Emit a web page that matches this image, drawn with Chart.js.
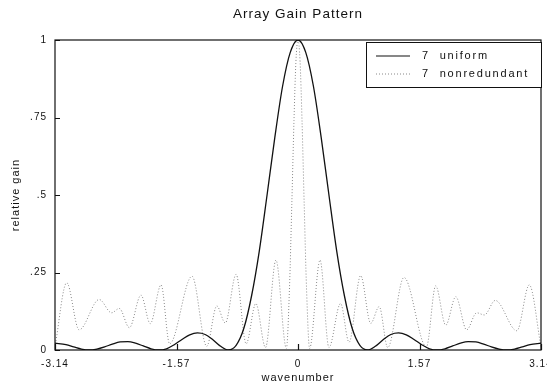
<html>
  <head>
    <script src="https://cdn.jsdelivr.net/npm/chart.js"></script>
    <style>
      body { margin: 0; background: #fff; }
    </style>
  </head>
  <body>
    <canvas id="myChart" width="547" height="385"></canvas>
    <script>
      // axis limits and ticks
      const xMin = -3.1416;
      const xMax = 3.1416;
      const xTicks = [-3.1416, -1.5708, 0, 1.5708, 3.1416];
      const xTickLabels = ['-3.14', '-1.57', '0', '1.57', '3.14'];
      const yTicks = [0, 0.25, 0.5, 0.75, 1];
      const yTickLabels = ['0', '.25', '.5', '.75', '1'];

      // 7 uniform
      const uniformX = [-3.1416, -3.0, -2.9, -2.8, -2.7, -2.6, -2.5, -2.4, -2.3, -2.2, -2.1, -2.0, -1.9, -1.8, -1.7, -1.6,
        -1.5, -1.4, -1.3, -1.2, -1.1, -1.0, -0.9, -0.8, -0.7, -0.6, -0.5, -0.4, -0.3, -0.2, -0.1, 0,
        0.1, 0.2, 0.3, 0.4, 0.5, 0.6, 0.7, 0.8, 0.9, 1.0, 1.1, 1.2, 1.3, 1.4, 1.5,
        1.6, 1.7, 1.8, 1.9, 2.0, 2.1, 2.2, 2.3, 2.4, 2.5, 2.6, 2.7, 2.8, 2.9, 3.0, 3.1416];
      const uniformY = [0.022, 0.017, 0.010, 0.003, 0.0, 0.003, 0.010, 0.019, 0.026, 0.027, 0.022, 0.013, 0.004, 0.0, 0.004, 0.017,
        0.034, 0.049, 0.055, 0.050, 0.033, 0.012, 0.0, 0.015, 0.070, 0.175, 0.32, 0.50, 0.685, 0.85, 0.96, 1.0,
        0.96, 0.85, 0.685, 0.50, 0.32, 0.175, 0.070, 0.015, 0.0, 0.012, 0.033, 0.050, 0.055, 0.049, 0.034,
        0.017, 0.004, 0.0, 0.004, 0.013, 0.022, 0.027, 0.026, 0.019, 0.010, 0.003, 0.0, 0.003, 0.010, 0.017, 0.022];

      // 7 nonredundant (peaks and troughs)
      const nonredX = [-3.1416, -2.99, -2.83, -2.57, -2.41, -2.31, -2.18, -2.03, -1.91, -1.77, -1.66, -1.37, -1.18,
        -1.05, -0.94, -0.80, -0.67, -0.545, -0.42, -0.285, -0.15, -0.11, -0.08, -0.052, -0.027, 0,
        0.027, 0.052, 0.08, 0.11, 0.15, 0.285, 0.40, 0.55, 0.66, 0.81, 0.94, 1.05, 1.16, 1.37,
        1.66, 1.78, 1.91, 2.04, 2.18, 2.31, 2.41, 2.55, 2.83, 2.99, 3.1416];
      const nonredY = [0.01, 0.217, 0.065, 0.163, 0.12, 0.134, 0.072, 0.177, 0.085, 0.21, 0.02, 0.238, 0.012,
        0.142, 0.087, 0.244, 0.02, 0.15, 0.008, 0.29, 0.005, 0.2, 0.47, 0.74, 0.93, 1.0,
        0.93, 0.74, 0.47, 0.2, 0.005, 0.29, 0.008, 0.15, 0.025, 0.24, 0.086, 0.14, 0.008, 0.234,
        0.01, 0.207, 0.08, 0.172, 0.065, 0.12, 0.113, 0.16, 0.062, 0.21, 0.01];

      const seriesNames = ['7  uniform', '7  nonredundant'];

      const fontFamily = '"Liberation Sans", Arial, sans-serif';
      Chart.defaults.font.family = fontFamily;
      Chart.defaults.color = '#111';

      const toPoints = (xs, ys) => xs.map((x, i) => ({ x: x, y: ys[i] }));

      // plotter look: letter spaced text
      const spacingPlugin = {
        id: 'spacing',
        beforeLayout(chart) { chart.ctx.letterSpacing = '1px'; },
        beforeDraw(chart) { chart.ctx.letterSpacing = '1px'; }
      };

      // box round the plot, inside ticks, legend box
      const framePlugin = {
        id: 'frame',
        afterDatasetsDraw(chart) {
          const { ctx, chartArea: a, scales } = chart;
          ctx.save();
          ctx.strokeStyle = '#111';
          ctx.lineWidth = 1.2;
          ctx.strokeRect(a.left, a.top, a.right - a.left, a.bottom - a.top);

          ctx.beginPath();
          yTicks.forEach(v => {
            const y = Math.round(scales.y.getPixelForValue(v)) + 0.5;
            ctx.moveTo(a.left, y);
            ctx.lineTo(a.left + 5, y);
          });
          xTicks.forEach(v => {
            const x = Math.round(scales.x.getPixelForValue(v)) + 0.5;
            ctx.moveTo(x, a.bottom);
            ctx.lineTo(x, a.bottom - 6);
          });
          ctx.stroke();

          // legend
          const lx = 366, ly = a.top + 2, lw = a.right - lx, lh = 45;
          ctx.fillStyle = '#fff';
          ctx.fillRect(lx, ly, lw, lh);
          ctx.lineWidth = 1;
          ctx.strokeRect(lx + 0.5, ly + 0.5, lw, lh);

          const rows = [ly + 14, ly + 32];
          ctx.beginPath();
          ctx.strokeStyle = '#111';
          ctx.lineWidth = 1.2;
          ctx.moveTo(376, rows[0]);
          ctx.lineTo(410, rows[0]);
          ctx.stroke();
          ctx.beginPath();
          ctx.strokeStyle = '#888';
          ctx.lineWidth = 1;
          ctx.setLineDash([1, 2]);
          ctx.moveTo(376, rows[1]);
          ctx.lineTo(410, rows[1]);
          ctx.stroke();
          ctx.setLineDash([]);

          ctx.fillStyle = '#111';
          ctx.font = '11px ' + fontFamily;
          ctx.letterSpacing = '1.8px';
          ctx.textAlign = 'left';
          ctx.textBaseline = 'middle';
          ctx.fillText(seriesNames[0], 422, rows[0]);
          ctx.fillText(seriesNames[1], 422, rows[1]);
          ctx.restore();
        }
      };

      const data = {
        datasets: [{
          label: seriesNames[0],
          data: toPoints(uniformX, uniformY),
          borderColor: '#111',
          borderWidth: 1.3,
          pointRadius: 0,
          cubicInterpolationMode: 'monotone',
          fill: false
        }, {
          label: seriesNames[1],
          data: toPoints(nonredX, nonredY),
          borderColor: '#888',
          borderWidth: 1,
          borderDash: [1, 2],
          pointRadius: 0,
          cubicInterpolationMode: 'monotone',
          fill: false
        }]
      };

      const config = {
        type: 'line',
        data: data,
        plugins: [spacingPlugin, framePlugin],
        options: {
          responsive: false,
          animation: false,
          devicePixelRatio: 1,
          layout: { padding: { left: 0, right: 6, top: 0, bottom: 0 } },
          plugins: {
            legend: { display: false },
            tooltip: { enabled: false },
            title: {
              display: true,
              fullSize: false,
              text: 'Array Gain Pattern',
              color: '#111',
              font: { size: 13.5, weight: 'normal' },
              padding: { top: 6, bottom: 17.8 }
            }
          },
          scales: {
            x: {
              type: 'linear',
              min: xMin,
              max: xMax,
              grid: { display: false },
              border: { display: false },
              afterBuildTicks: s => { s.ticks = xTicks.map(v => ({ value: v })); },
              ticks: {
                autoSkip: false,
                maxRotation: 0,
                padding: 0,
                font: { size: 10 },
                callback: v => xTickLabels[xTicks.indexOf(v)]
              },
              title: { display: true, text: 'wavenumber', font: { size: 11 }, padding: { top: 0, bottom: 0 } },
              afterFit: s => { s.height = 35; s.paddingLeft = 0; s.paddingRight = 0; }
            },
            y: {
              min: 0,
              max: 1,
              grid: { display: false },
              border: { display: false },
              afterBuildTicks: s => { s.ticks = yTicks.map(v => ({ value: v })); },
              ticks: {
                autoSkip: false,
                padding: 0,
                font: { size: 10 },
                callback: v => yTickLabels[yTicks.indexOf(v)]
              },
              title: { display: true, text: 'relative gain', font: { size: 11 }, padding: { top: 9, bottom: 0 } },
              afterFit: s => { s.width = 55; s.paddingTop = 0; s.paddingBottom = 0; }
            }
          }
        }
      };

      const ctx = document.getElementById('myChart').getContext('2d');
      const myChart = new Chart(ctx, config);
    </script>
  </body>
</html>
